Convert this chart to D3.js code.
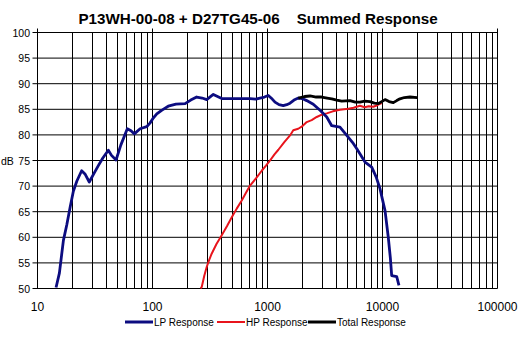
<!DOCTYPE html>
<html>
<head>
<meta charset="utf-8">
<script src="https://cdn.jsdelivr.net/npm/d3@7/dist/d3.min.js"></script>
<style>
  html, body { margin: 0; padding: 0; background: #fff; }
  svg { display: block; font-family: "Liberation Sans", Arial, sans-serif; }
</style>
</head>
<body>
<svg id="chart" width="524" height="337"></svg>
<script>
// Frequency response data: [frequency (Hz), level (dB)]
const lpResponse = [
  [14.5,50.2],[15.5,53],[16.8,59.4],[18,62.5],[19.2,65.8],[20.5,69],[22,71],[24.2,73],[26,72.3],
  [28.2,70.8],[31,72.5],[33.8,74],[37,75.5],[41.3,77],[44,76],[48.2,75.1],[53,78],[60.4,81.2],
  [65,80.8],[69.5,80.2],[78,81.2],[89,81.6],[95,82.3],[101.6,83.3],[109,84.1],[120,84.8],[137,85.6],
  [160,86],[192,86.1],[215,86.8],[242,87.4],[270,87.2],[296,86.9],[338,87.9],[400,87.1],[500,87.1],
  [577,87.1],[705,87.1],[790,87.0],[861,87.2],[940,87.4],[1016,87.7],[1100,87.0],[1162,86.4],
  [1260,85.9],[1371,85.7],[1470,85.9],[1570,86.2],[1700,86.8],[1854,87.2],[2000,87.1],[2193,86.7],
  [2500,86.0],[2864,84.8],[3275,83.5],[3617,81.8],[4266,81.5],[4888,79.9],[5500,78.5],[5976,77.3],
  [7046,74.7],[8054,73.7],[8800,71.8],[9507,69.5],[10520,65.2],[11230,60],[11700,56],[12020,52.5],
  [13290,52.3],[13900,50.6]
];
const hpResponse = [
  [262,50],[268,50.3],[282,52.5],[296,54.2],[310,55.5],[327,56.8],[360,58.7],[400,60.4],[445,62.2],
  [489,63.9],[540,65.6],[597,67.2],[650,68.7],[705,70.1],[800,71.6],[891,73],[970,74],[1052,75],
  [1150,76.2],[1243,77.1],[1400,78.6],[1570,79.9],[1675,80.9],[1850,81.2],[1983,81.6],[2193,82.5],
  [2421,82.9],[2680,83.5],[3000,84],[3275,84.2],[3700,84.6],[4266,84.9],[5044,85.1],[5600,85.3],
  [6368,85.7],[7000,85.4],[7600,85.6],[8318,85.5],[9000,85.8],[9840,86.2]
];
const totalResponse = [
  [1854,87.2],[2100,87.5],[2344,87.6],[2650,87.4],[2958,87.4],[3300,87.2],[3617,87.05],[4000,86.8],
  [4415,86.6],[5212,86.7],[5800,86.4],[6368,86.4],[7000,86.6],[7780,86.5],[8500,86.2],[9180,86.1],
  [10000,86.6],[10520,86.9],[11400,86.5],[12420,86.3],[13300,86.7],[14190,87.05],[15500,87.3],
  [17340,87.4],[20000,87.3]
];
const xTickLabels = [10, 100, 1000, 10000, 100000];
const yTickLabels = [50, 55, 60, 65, 70, 75, 80, 85, 90, 95, 100];
const seriesNames = ["LP Response", "HP Response", "Total Response"];
const chartTitle = "P13WH-00-08 + D27TG45-06    Summed Response";

const svg = d3.select("#chart");
const x = d3.scaleLog().domain([10, 100000]).range([37.5, 497.5]);
const y = d3.scaleLinear().domain([50, 100]).range([288.5, 32.5]);

// Title
svg.append("text")
  .attr("x", 258).attr("y", 24)
  .attr("text-anchor", "middle")
  .style("white-space", "pre")
  .attr("xml:space", "preserve")
  .attr("font-size", 15.2).attr("font-weight", "bold")
  .text(chartTitle);

// Grid: vertical lines at every 1..9 multiple, horizontal every 5 dB
const grid = svg.append("g").attr("stroke", "#000").attr("stroke-width", 1);
x.ticks().forEach(f => {
  const isDecade = xTickLabels.includes(f);
  const px = Math.round(x(f) - 0.5) + 0.5;
  grid.append("line")
    .attr("x1", px).attr("x2", px)
    .attr("y1", isDecade ? y(100) - 4 : y(100)).attr("y2", y(50));
});
yTickLabels.forEach(v => {
  grid.append("line")
    .attr("x1", x(10) - 5).attr("x2", x(100000))
    .attr("y1", y(v)).attr("y2", y(v));
});

// Y axis labels
svg.append("g").selectAll("text").data(yTickLabels).join("text")
  .attr("x", 30).attr("y", d => y(d) + 4)
  .attr("text-anchor", "end").attr("font-size", 10.5)
  .text(d => d);
svg.append("text").attr("x", 1).attr("y", y(75) + 4)
  .attr("font-size", 10.5).text("dB");

// X axis labels
svg.append("g").selectAll("text").data(xTickLabels).join("text")
  .attr("x", d => x(d)).attr("y", 311)
  .attr("text-anchor", "middle").attr("font-size", 12)
  .text(d => d);

// Curves
const line = d3.line().x(d => x(d[0])).y(d => y(d[1])).curve(d3.curveLinear);
svg.append("defs").append("clipPath").attr("id", "plot")
  .append("rect").attr("x", x(10)).attr("y", y(100) - 2)
  .attr("width", x(100000) - x(10)).attr("height", y(50) - y(100) + 4);
const curves = svg.append("g").attr("clip-path", "url(#plot)")
  .attr("fill", "none").attr("stroke-linejoin", "round");
curves.append("path").datum(hpResponse).attr("d", line)
  .attr("stroke", "#e8141c").attr("stroke-width", 2);
curves.append("path").datum(lpResponse).attr("d", line)
  .attr("stroke", "#0c0c80").attr("stroke-width", 2.8);
curves.append("path").datum(totalResponse).attr("d", line)
  .attr("stroke", "#000").attr("stroke-width", 2.8);

// Legend
const legendItems = [
  { name: seriesNames[0], color: "#0c0c80", width: 3, x: 125 },
  { name: seriesNames[1], color: "#e8141c", width: 2, x: 217 },
  { name: seriesNames[2], color: "#000", width: 3, x: 308 }
];
const legend = svg.append("g");
legendItems.forEach(item => {
  legend.append("line")
    .attr("x1", item.x).attr("x2", item.x + 28)
    .attr("y1", 322).attr("y2", 322)
    .attr("stroke", item.color).attr("stroke-width", item.width);
  legend.append("text")
    .attr("x", item.x + 29).attr("y", 326)
    .attr("font-size", 10).text(item.name);
});
</script>
</body>
</html>
